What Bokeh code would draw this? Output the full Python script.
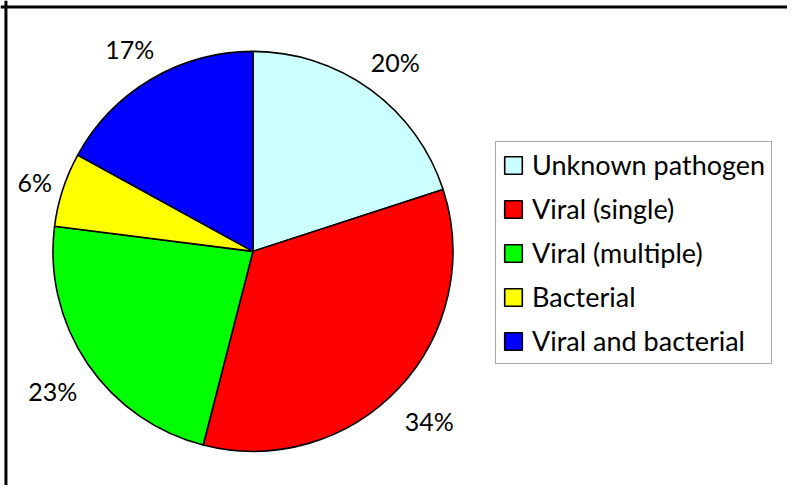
import math
from bokeh.plotting import figure
from bokeh.models import Range1d, ColumnDataSource, Span
from bokeh.core.properties import value
from bokeh.embed import file_html
from bokeh.resources import INLINE

# ---- data ----
categories = ["Unknown pathogen", "Viral (single)", "Viral (multiple)", "Bacterial", "Viral and bacterial"]
percents = [20, 34, 23, 6, 17]
colors = ["#CCFFFF", "#FF0000", "#00FF00", "#FFFF00", "#0000FF"]

FONT = "Lato"
FS_LABEL = 25
FS_LEGEND = 27

W, H = 787, 485
p = figure(width=W, height=H, output_backend="svg", toolbar_location=None,
           x_range=Range1d(0, 795), y_range=Range1d(0, 493),
           min_border=0, min_border_left=0, min_border_right=0,
           min_border_top=0, min_border_bottom=0)
p.axis.visible = False
p.grid.visible = False
p.outline_line_color = None
p.background_fill_color = "white"
p.border_fill_color = "white"

cx, cy, r = 255, 493 - 255, 202
total = float(sum(percents))
starts, ends, mids = [], [], []
cum = 0.0
for v in percents:
    a0 = math.pi / 2 - 2 * math.pi * cum / total
    cum += v
    a1 = math.pi / 2 - 2 * math.pi * cum / total
    starts.append(a0)
    ends.append(a1)
    mids.append((a0 + a1) / 2)

src = ColumnDataSource(dict(start=starts, end=ends, color=colors, label=categories))
p.wedge(x=cx, y=cy, radius=r, start_angle="start", end_angle="end", direction="clock",
        fill_color="color", line_color="black", line_width=1.6, source=src,
        legend_field="label")

# percentage labels outside the pie
lx, ly, lt = [], [], []
for v, m in zip(percents, mids):
    txt = f"{v}%"
    hw = len(txt) * 0.29 * FS_LABEL
    d = r * 1.21
    x = cx + d * math.cos(m)
    y = cy + d * math.sin(m) - 5
    x = max(x, 20 + hw)
    lx.append(x)
    ly.append(y)
    lt.append(txt)
p.text(x=lx, y=ly, text=lt, text_align="center", text_baseline="middle",
       text_font=value(FONT), text_font_size=f"{FS_LABEL}px", text_color="black")

# chart border (top and left visible)
p.add_layout(Span(location=5.5, dimension="height", line_color="black", line_width=3))
p.add_layout(Span(location=493 - 6.5, dimension="width", line_color="black", line_width=3))

leg = p.legend[0]
leg.location = (495, 121)
leg.margin = 0
leg.padding = 6
leg.spacing = 11
leg.glyph_width = 22
leg.glyph_height = 22
leg.label_height = 30
leg.label_standoff = 8
leg.label_text_font = FONT
leg.label_text_font_size = f"{FS_LEGEND}px"
leg.label_text_color = "black"
leg.border_line_color = "#555555"
leg.border_line_width = 1
leg.background_fill_color = "white"
leg.background_fill_alpha = 1.0

open("out.html", "w").write(file_html(p, INLINE))
